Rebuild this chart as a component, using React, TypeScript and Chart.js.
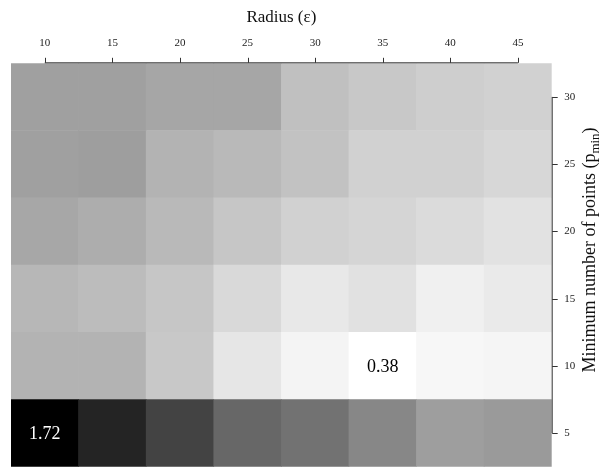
import React, { useEffect, useRef } from "react";
import { Chart, registerables } from "chart.js";

Chart.register(...registerables);

// Radius (epsilon) categories – top axis
const radiusLabels = ["10", "15", "20", "25", "30", "35", "40", "45"];
// Minimum number of points (p_min) – right axis
const pMinLevels = [5, 10, 15, 20, 25, 30];
const yTickValues = [5, 10, 15, 20, 25, 30];

// Cell values per p_min row (columns follow radiusLabels)
const rowP5 = [1.72, 1.53, 1.37, 1.18, 1.12, 1.01, 0.89, 0.91];
const rowP10 = [0.78, 0.78, 0.67, 0.51, 0.44, 0.38, 0.42, 0.43];
const rowP15 = [0.76, 0.73, 0.68, 0.58, 0.5, 0.54, 0.46, 0.49];
const rowP20 = [0.84, 0.81, 0.75, 0.68, 0.62, 0.6, 0.57, 0.53];
const rowP25 = [0.88, 0.89, 0.78, 0.75, 0.7, 0.62, 0.62, 0.59];
const rowP30 = [0.88, 0.88, 0.85, 0.85, 0.71, 0.67, 0.64, 0.62];
const rows = [rowP5, rowP10, rowP15, rowP20, rowP25, rowP30];

const FONT = "'Liberation Serif', 'Times New Roman', serif";

const allValues = rows.flat();
const vMin = Math.min(...allValues);
const vMax = Math.max(...allValues);

function grayFor(v: number): string {
  const g = Math.round(255 * (1 - (v - vMin) / (vMax - vMin)));
  return `rgb(${g},${g},${g})`;
}

const decorPlugin = {
  id: "decor",
  afterDraw(chart: any) {
    const ctx = chart.ctx as CanvasRenderingContext2D;
    const area = chart.chartArea;
    const xs = chart.scales.x;
    const ys = chart.scales.y;

    // cell annotations for extreme values
    ctx.save();
    ctx.font = `18px ${FONT}`;
    ctx.textAlign = "center";
    ctx.textBaseline = "middle";
    chart.data.datasets.forEach((ds: any, di: number) => {
      const meta = chart.getDatasetMeta(di);
      ds.values.forEach((v: number, i: number) => {
        if (v === vMax || v === vMin) {
          const el = meta.data[i];
          const cy = (el.y + el.base) / 2;
          ctx.fillStyle = v === vMax ? "#ffffff" : "#000000";
          ctx.fillText(v.toFixed(2), el.x, cy + 1);
        }
      });
    });
    ctx.restore();

    // R-style axes
    ctx.save();
    ctx.strokeStyle = "#333333";
    ctx.lineWidth = 1;
    const x0 = xs.getPixelForValue(0);
    const x1 = xs.getPixelForValue(radiusLabels.length - 1);
    const ty = area.top - 0.5;
    ctx.beginPath();
    ctx.moveTo(x0, ty);
    ctx.lineTo(x1, ty);
    for (let i = 0; i < radiusLabels.length; i++) {
      const px = Math.round(xs.getPixelForValue(i)) + 0.5;
      ctx.moveTo(px, ty);
      ctx.lineTo(px, ty - 5);
    }
    ctx.stroke();

    const rx = area.right + 0.5;
    const yTop = ys.getPixelForValue(yTickValues[yTickValues.length - 1]);
    const yBot = ys.getPixelForValue(yTickValues[0]);
    ctx.beginPath();
    ctx.moveTo(rx, yTop);
    ctx.lineTo(rx, yBot);
    yTickValues.forEach((t) => {
      const py = Math.round(ys.getPixelForValue(t)) + 0.5;
      ctx.moveTo(rx, py);
      ctx.lineTo(rx + 5.5, py);
    });
    ctx.stroke();
    ctx.restore();

    // titles
    ctx.save();
    ctx.fillStyle = "#111111";
    ctx.font = `17px ${FONT}`;
    ctx.textAlign = "center";
    ctx.textBaseline = "alphabetic";
    ctx.fillText("Radius (\u03b5)", (area.left + area.right) / 2, 22);

    // right title with subscript
    const main = "Minimum number of points (p";
    const sub = "min";
    const tail = ")";
    ctx.font = `18px ${FONT}`;
    const wMain = ctx.measureText(main).width;
    const wTail = ctx.measureText(tail).width;
    ctx.font = `13px ${FONT}`;
    const wSub = ctx.measureText(sub).width;
    const total = wMain + wSub + wTail;
    ctx.translate(595, 250);
    ctx.rotate(-Math.PI / 2);
    ctx.textAlign = "left";
    let sx = -total / 2;
    ctx.font = `18px ${FONT}`;
    ctx.fillText(main, sx, 0);
    sx += wMain;
    ctx.font = `13px ${FONT}`;
    ctx.fillText(sub, sx, 3.5);
    sx += wSub;
    ctx.font = `18px ${FONT}`;
    ctx.fillText(tail, sx, 0);
    ctx.restore();
  },
};

export default function App() {
  const ref = useRef<HTMLCanvasElement | null>(null);

  useEffect(() => {
    document.body.style.margin = "0";
    const canvas = ref.current;
    if (!canvas) return;

    const datasets = rows.map((vals, ri) => ({
      label: `p${pMinLevels[ri]}`,
      values: vals,
      data: vals.map(() => [pMinLevels[ri] - 2.5, pMinLevels[ri] + 2.5]),
      backgroundColor: vals.map((v) => grayFor(v)),
      borderWidth: 0,
      borderSkipped: false,
      grouped: false,
      barPercentage: 1,
      categoryPercentage: 1,
    }));

    const chart = new Chart(canvas, {
      type: "bar",
      data: { labels: radiusLabels, datasets: datasets as any },
      options: {
        responsive: false,
        animation: false,
        devicePixelRatio: 1,
        layout: { padding: { left: 11, top: 0, right: 0, bottom: 1.3 } },
        plugins: { legend: { display: false }, tooltip: { enabled: false }, title: { display: false } },
        scales: {
          x: {
            type: "category",
            position: "top",
            offset: true,
            grid: { display: false, drawTicks: false },
            border: { display: false },
            ticks: {
              color: "#222222",
              font: { family: FONT, size: 11 },
              padding: 13.6,
              maxRotation: 0,
              autoSkip: false,
            },
            afterFit: (scale: any) => {
              scale.height = 63.3;
              scale.paddingLeft = 0;
              scale.paddingRight = 0;
            },
          },
          y: {
            type: "linear",
            position: "right",
            min: 2.5,
            max: 32.5,
            grid: { display: false, drawTicks: false },
            border: { display: false },
            ticks: {
              color: "#222222",
              font: { family: FONT, size: 11 },
              padding: 12.6,
            },
            afterBuildTicks: (scale: any) => {
              scale.ticks = yTickValues.map((v) => ({ value: v }));
            },
            afterFit: (scale: any) => {
              scale.width = 57.3;
              scale.paddingTop = 0;
              scale.paddingBottom = 0;
            },
          },
        },
      },
      plugins: [decorPlugin],
    });

    return () => chart.destroy();
  }, []);

  return <canvas ref={ref} width={609} height={468} style={{ display: "block" }} />;
}
